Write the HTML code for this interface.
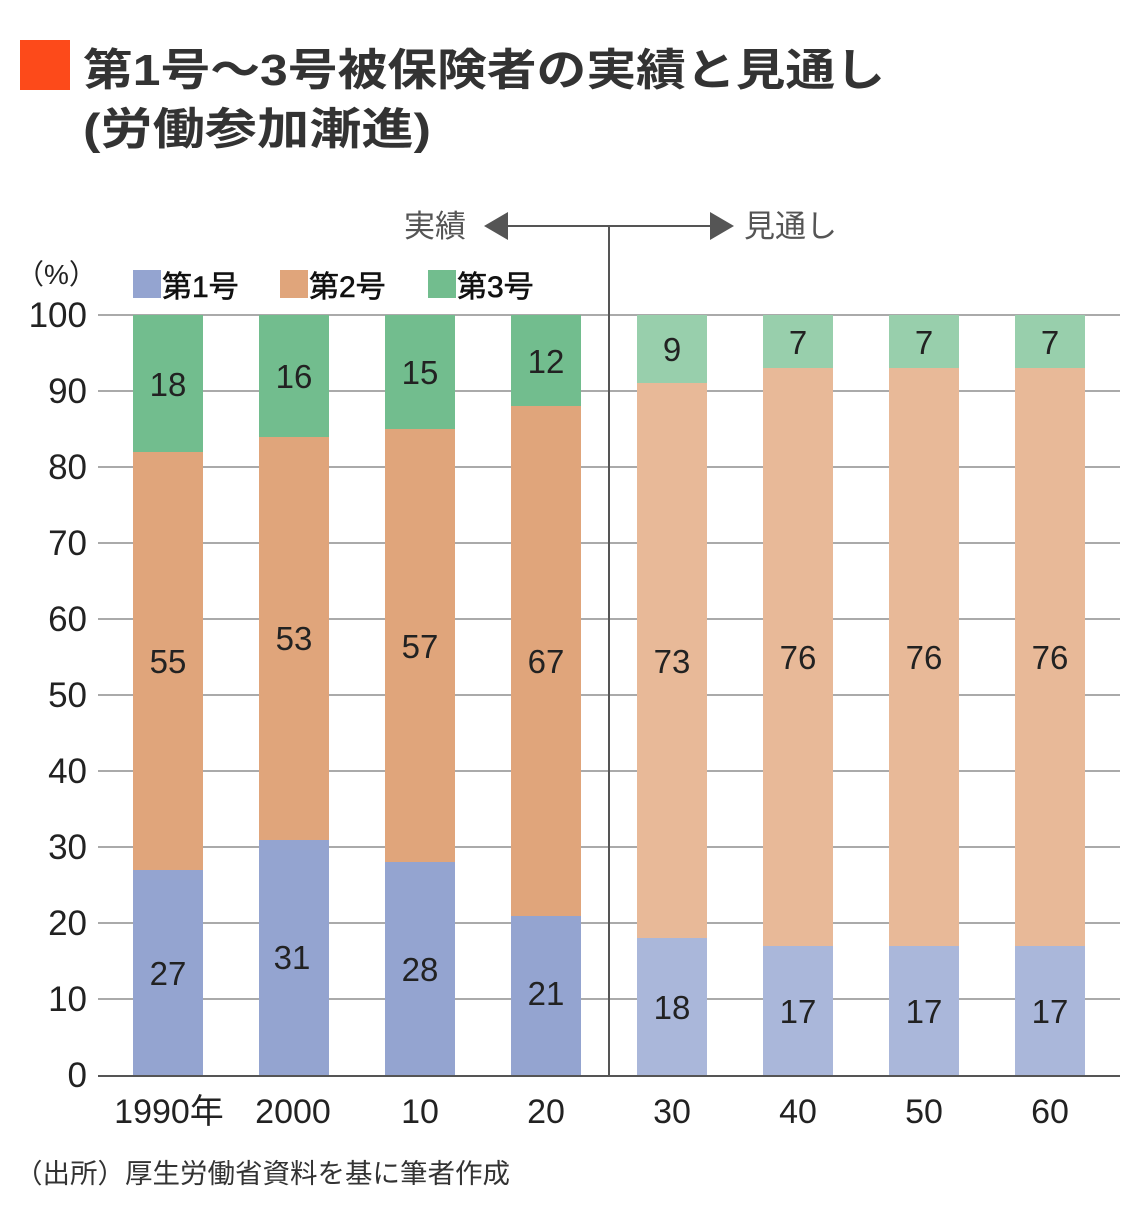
<!DOCTYPE html>
<html><head><meta charset="utf-8"><style>
html,body{margin:0;padding:0;background:#fff}
svg{display:block}
text{font-family:"Liberation Sans","Noto Sans CJK JP",sans-serif;fill:#222}
</style></head><body>
<svg width="1140" height="1220" viewBox="0 0 1140 1220" xmlns="http://www.w3.org/2000/svg">
<rect x="20" y="40" width="50" height="50" fill="#fd4a1a"/>
<text x="83" y="85" font-size="44" font-weight="bold" textLength="802" lengthAdjust="spacingAndGlyphs" style="fill:#333">第1号〜3号被保険者の実績と見通し</text>
<text x="83" y="144" font-size="44" font-weight="bold" textLength="348" lengthAdjust="spacingAndGlyphs" style="fill:#333">(労働参加漸進)</text>

<g stroke="#aaa" stroke-width="2">
<line x1="98" y1="315" x2="1120" y2="315"/>
<line x1="98" y1="391" x2="1120" y2="391"/>
<line x1="98" y1="467" x2="1120" y2="467"/>
<line x1="98" y1="543" x2="1120" y2="543"/>
<line x1="98" y1="619" x2="1120" y2="619"/>
<line x1="98" y1="695" x2="1120" y2="695"/>
<line x1="98" y1="771" x2="1120" y2="771"/>
<line x1="98" y1="847" x2="1120" y2="847"/>
<line x1="98" y1="923" x2="1120" y2="923"/>
<line x1="98" y1="999" x2="1120" y2="999"/>
</g>
<g font-size="35" text-anchor="end">
<text x="87" y="327">100</text><text x="87" y="403">90</text><text x="87" y="479">80</text>
<text x="87" y="555">70</text><text x="87" y="631">60</text><text x="87" y="707">50</text>
<text x="87" y="783">40</text><text x="87" y="859">30</text><text x="87" y="935">20</text>
<text x="87" y="1011">10</text><text x="87" y="1087">0</text>
</g>
<text x="16" y="284" font-size="28">（%）</text>

<g>
<rect x="133" y="315" width="70" height="137" fill="#72bd8e"/>
<rect x="133" y="452" width="70" height="418" fill="#e0a57b"/>
<rect x="133" y="870" width="70" height="205" fill="#94a4d0"/>
<rect x="259" y="315" width="70" height="122" fill="#72bd8e"/>
<rect x="259" y="437" width="70" height="403" fill="#e0a57b"/>
<rect x="259" y="840" width="70" height="235" fill="#94a4d0"/>
<rect x="385" y="315" width="70" height="114" fill="#72bd8e"/>
<rect x="385" y="429" width="70" height="433" fill="#e0a57b"/>
<rect x="385" y="862" width="70" height="213" fill="#94a4d0"/>
<rect x="511" y="315" width="70" height="91" fill="#72bd8e"/>
<rect x="511" y="406" width="70" height="510" fill="#e0a57b"/>
<rect x="511" y="916" width="70" height="159" fill="#94a4d0"/>
<rect x="637" y="315" width="70" height="68" fill="#98cfac"/>
<rect x="637" y="383" width="70" height="555" fill="#e8b998"/>
<rect x="637" y="938" width="70" height="137" fill="#aab7da"/>
<rect x="763" y="315" width="70" height="53" fill="#98cfac"/>
<rect x="763" y="368" width="70" height="578" fill="#e8b998"/>
<rect x="763" y="946" width="70" height="129" fill="#aab7da"/>
<rect x="889" y="315" width="70" height="53" fill="#98cfac"/>
<rect x="889" y="368" width="70" height="578" fill="#e8b998"/>
<rect x="889" y="946" width="70" height="129" fill="#aab7da"/>
<rect x="1015" y="315" width="70" height="53" fill="#98cfac"/>
<rect x="1015" y="368" width="70" height="578" fill="#e8b998"/>
<rect x="1015" y="946" width="70" height="129" fill="#aab7da"/>
</g>
<line x1="98" y1="1076" x2="1120" y2="1076" stroke="#555" stroke-width="2"/>

<g font-size="33" text-anchor="middle">
<text x="168" y="396">18</text><text x="168" y="673">55</text><text x="168" y="985">27</text>
<text x="294" y="388">16</text><text x="294" y="650">53</text><text x="292" y="969">31</text>
<text x="420" y="384">15</text><text x="420" y="658">57</text><text x="420" y="981">28</text>
<text x="546" y="373">12</text><text x="546" y="673">67</text><text x="546" y="1005">21</text>
<text x="672" y="361">9</text><text x="672" y="673">73</text><text x="672" y="1019">18</text>
<text x="798" y="354">7</text><text x="798" y="669">76</text><text x="798" y="1023">17</text>
<text x="924" y="354">7</text><text x="924" y="669">76</text><text x="924" y="1023">17</text>
<text x="1050" y="354">7</text><text x="1050" y="669">76</text><text x="1050" y="1023">17</text>
</g>

<g font-size="34" text-anchor="middle">
<text x="169" y="1123">1990年</text><text x="293" y="1123">2000</text>
<text x="420" y="1123">10</text><text x="546" y="1123">20</text>
<text x="672" y="1123">30</text><text x="798" y="1123">40</text>
<text x="924" y="1123">50</text><text x="1050" y="1123">60</text>
</g>

<line x1="609" y1="226" x2="609" y2="1076" stroke="#555" stroke-width="2"/>
<line x1="505" y1="226" x2="715" y2="226" stroke="#555" stroke-width="2"/>
<polygon points="484,226 508,212 508,240" fill="#555"/>
<polygon points="734,226 710,212 710,240" fill="#555"/>
<text x="404" y="237" font-size="31" style="fill:#555">実績</text>
<text x="744" y="237" font-size="31" style="fill:#555">見通し</text>

<rect x="133" y="270" width="28" height="28" fill="#94a4d0"/>
<text x="162" y="297" font-size="30" style="fill:#111;stroke:#111;stroke-width:0.6">第1号</text>
<rect x="280" y="270" width="28" height="28" fill="#e0a57b"/>
<text x="309" y="297" font-size="30" style="fill:#111;stroke:#111;stroke-width:0.6">第2号</text>
<rect x="428" y="270" width="28" height="28" fill="#72bd8e"/>
<text x="457" y="297" font-size="30" style="fill:#111;stroke:#111;stroke-width:0.6">第3号</text>

<text x="15" y="1183" font-size="27" textLength="495" lengthAdjust="spacingAndGlyphs" style="fill:#333">（出所）厚生労働省資料を基に筆者作成</text>
</svg>
</body></html>
